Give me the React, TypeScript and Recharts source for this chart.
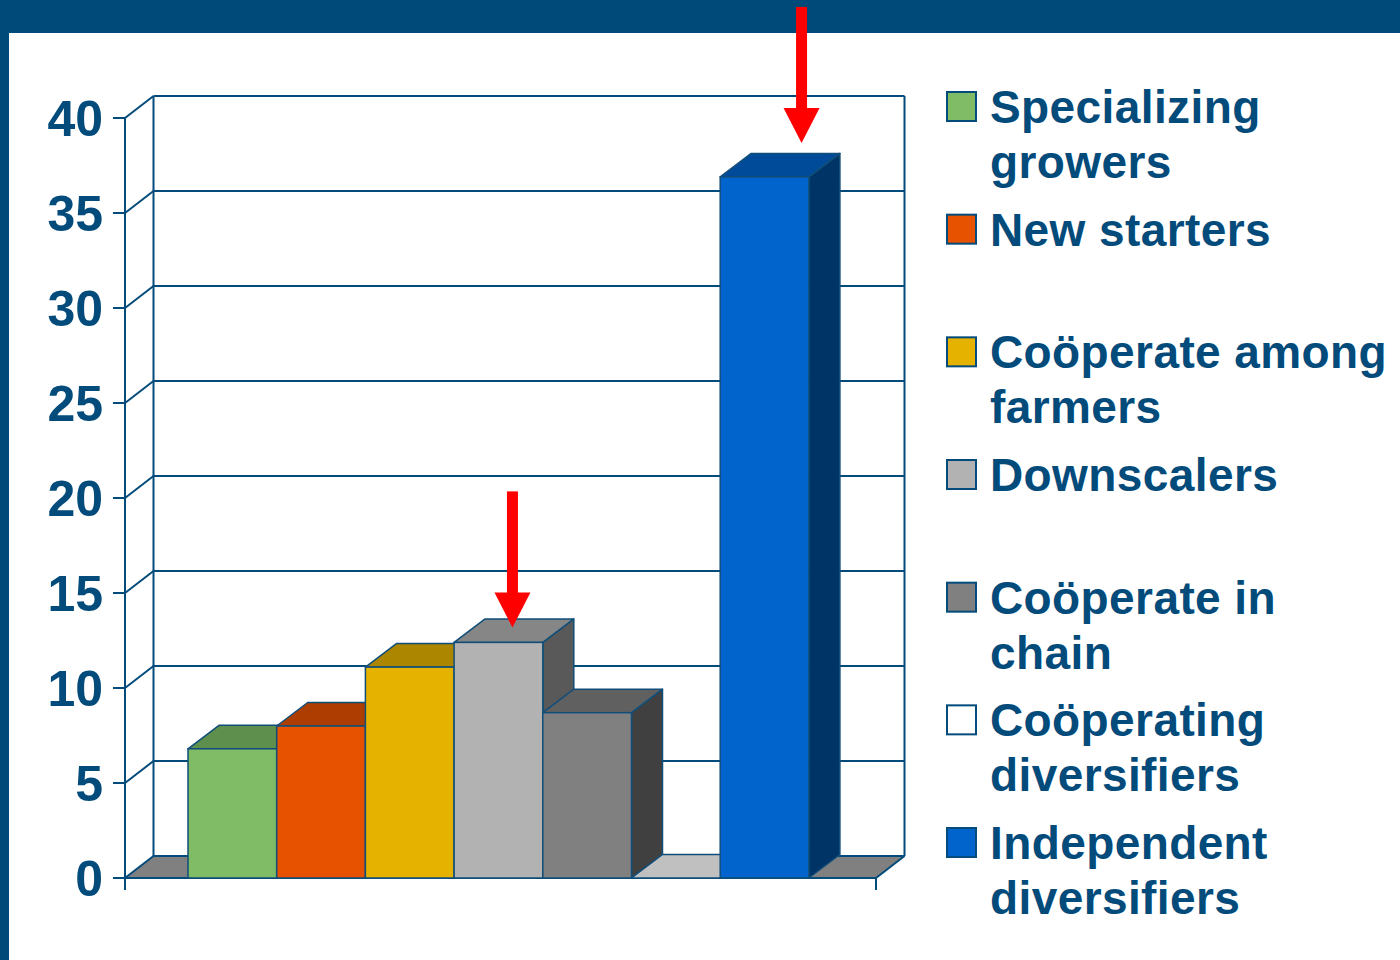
import React from 'react';
import { BarChart, Bar, XAxis, YAxis, CartesianGrid, Legend } from 'recharts';

// ---------- data ----------
const categories = ['Farm type'];
const seriesNames = [
  'Specializing growers',
  'New starters',
  'Coöperate among farmers',
  'Downscalers',
  'Coöperate in chain',
  'Coöperating diversifiers',
  'Independent diversifiers',
];
const seriesValues = [6.8, 8.0, 11.1, 12.4, 8.7, 0, 36.9];
const yTicks = [0, 5, 10, 15, 20, 25, 30, 35, 40];
const legendLines = [
  ['Specializing', 'growers'],
  ['New starters'],
  ['Coöperate among', 'farmers'],
  ['Downscalers'],
  ['Coöperate in', 'chain'],
  ['Coöperating', 'diversifiers'],
  ['Independent', 'diversifiers'],
];
const frontColors = ['#80bb66', '#e65200', '#e6b200', '#b2b2b2', '#808080', '#ffffff', '#0064cc'];
const topColors = ['#5f8f4c', '#ad3d00', '#ad8600', '#868686', '#606060', '#c0c0c0', '#004b99'];
const sideColors = ['#40602f', '#732900', '#735900', '#595959', '#404040', '#808080', '#003366'];
// red arrows pointing at two of the series
const arrowSeries = ['Downscalers', 'Independent diversifiers'];
const arrowShift = [14, 37];
const arrowGap = [15, 34];

const data = categories.map((c) => {
  const row: Record<string, any> = { name: c };
  seriesNames.forEach((_, i) => {
    row['s' + i] = seriesValues[i];
  });
  return row;
});

// ---------- style / layout ----------
const BLUE = '#034b7b';
const FONT = '"Liberation Sans", Arial, Helvetica, sans-serif';
const W = 1400;
const H = 960;
const M = { top: 118, right: 524, bottom: 82, left: 0 };
const PLOT_TOP = M.top;
const PLOT_BOTTOM = H - M.bottom;
const WDX = 28.5; // wall depth
const WDY = -22;
const BDX = 31; // bar depth
const BDY = -23.5;

const pts = (a: number[][]) => a.map((p) => p.join(',')).join(' ');

const renderGridLine = (p: any) => {
  const { x1, y1, x2, y2, key } = p;
  const isBottom = Math.abs(y1 - PLOT_BOTTOM) < 1;
  return (
    <g key={key}>
      {isBottom && (
        <>
          <polygon
            points={pts([[x1, y1], [x2, y2], [x2 + WDX, y2 + WDY], [x1 + WDX, y1 + WDY]])}
            fill="#808080"
            stroke="none"
          />
          <line x1={x1 + WDX} y1={PLOT_TOP + WDY} x2={x1 + WDX} y2={y1 + WDY} stroke={BLUE} strokeWidth={2} />
          <line x1={x2 + WDX} y1={PLOT_TOP + WDY} x2={x2 + WDX} y2={y2 + WDY} stroke={BLUE} strokeWidth={2} />
          <line x1={x2} y1={y2} x2={x2 + WDX} y2={y2 + WDY} stroke={BLUE} strokeWidth={2} />
          <line x1={x1} y1={y1} x2={x2} y2={y2} stroke={BLUE} strokeWidth={2} />
          <line x1={x1} y1={y1} x2={x1} y2={y1 + 12} stroke={BLUE} strokeWidth={2} />
          <line x1={x2} y1={y2} x2={x2} y2={y2 + 12} stroke={BLUE} strokeWidth={2} />
        </>
      )}
      <line x1={x1 + WDX} y1={y1 + WDY} x2={x2 + WDX} y2={y2 + WDY} stroke={BLUE} strokeWidth={2} />
      <line x1={x1} y1={y1} x2={x1 + WDX} y2={y1 + WDY} stroke={BLUE} strokeWidth={2} />
    </g>
  );
};

function Box3D(props: any) {
  const { x, y, width, height, si } = props;
  if (x == null || y == null) return null;
  const xl = x;
  const xr = x + width;
  const yT = Math.min(y, y + height);
  const yB = Math.max(y, y + height);
  const stroke = '#104e7a';
  const ai = arrowSeries.indexOf(seriesNames[si]);
  let arrow = null;
  if (ai >= 0) {
    const cx = xl + width / 2 + arrowShift[ai];
    const tip = yT - arrowGap[ai];
    arrow = (
      <g>
        <rect x={cx - 5.5} y={tip - 136} width={11} height={103} fill="#ff0000" />
        <polygon points={pts([[cx - 18, tip - 35], [cx + 18, tip - 35], [cx, tip]])} fill="#ff0000" />
      </g>
    );
  }
  return (
    <g>
      <polygon
        points={pts([[xr, yT], [xr + BDX, yT + BDY], [xr + BDX, yB + BDY], [xr, yB]])}
        fill={sideColors[si]}
        stroke={stroke}
        strokeWidth={1.5}
        strokeLinejoin="round"
      />
      <polygon
        points={pts([[xl, yT], [xr, yT], [xr + BDX, yT + BDY], [xl + BDX, yT + BDY]])}
        fill={topColors[si]}
        stroke={stroke}
        strokeWidth={1.5}
        strokeLinejoin="round"
      />
      {yB - yT > 0 && (
        <rect x={xl} y={yT} width={width} height={yB - yT} fill={frontColors[si]} stroke={stroke} strokeWidth={1.5} />
      )}
      {arrow}
    </g>
  );
}

const LegendBox = () => (
  <svg width={460} height={960} style={{ display: 'block' }}>
    {seriesNames.map((n, i) => {
      const base = 123 + i * 122.67;
      return (
        <g key={n}>
          <rect x={7} y={base - 31} width={29} height={29} fill={frontColors[i]} stroke={BLUE} strokeWidth={2} />
          {legendLines[i].map((ln, j) => (
            <text
              key={j}
              x={50}
              y={base + j * 55}
              fill={BLUE}
              fontSize={46}
              fontWeight={700}
              fontFamily={FONT}
              letterSpacing={0.4}
            >
              {ln}
            </text>
          ))}
        </g>
      );
    })}
  </svg>
);

export default function App() {
  return (
    <div style={{ position: 'absolute', left: 0, top: 0, width: W, height: H, background: '#ffffff', overflow: 'hidden' }}>
      <div style={{ position: 'absolute', left: 0, top: 0, width: W, height: 33, background: '#004a79' }} />
      <div style={{ position: 'absolute', left: 0, top: 0, width: 9, height: H, background: '#004a79' }} />
      <div style={{ position: 'absolute', left: 0, top: 0 }}>
        <BarChart width={W} height={H} data={data} margin={M} barGap={0} barSize={88.7}>
          <CartesianGrid vertical={false} horizontal={renderGridLine} />
          <XAxis dataKey="name" hide padding={{ left: 0, right: 4 }} />
          <YAxis
            width={125}
            domain={[0, 40]}
            ticks={yTicks}
            interval={0}
            axisLine={{ stroke: BLUE, strokeWidth: 2 }}
            tickLine={{ stroke: BLUE, strokeWidth: 2 }}
            tickSize={12}
            tickMargin={10}
            tick={{ fill: BLUE, fontSize: 50, fontWeight: 700, fontFamily: FONT }}
          />
          {seriesNames.map((n, i) => (
            <Bar
              key={n}
              dataKey={'s' + i}
              name={n}
              fill={frontColors[i]}
              isAnimationActive={false}
              shape={(p: any) => <Box3D {...p} si={i} />}
            />
          ))}
          <Legend
            layout="horizontal"
            verticalAlign="middle"
            align="center"
            wrapperStyle={{ left: 940, top: 0, width: 460, height: 960 }}
            content={() => <LegendBox />}
          />
        </BarChart>
      </div>
    </div>
  );
}
